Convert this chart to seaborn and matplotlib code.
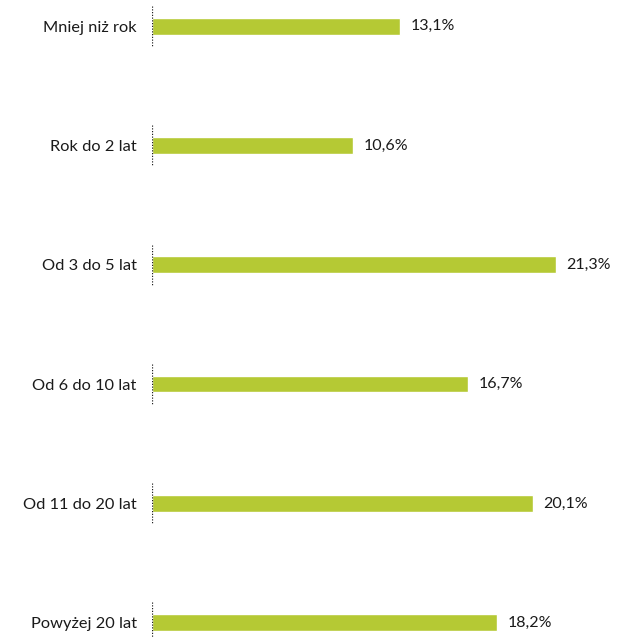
import pandas as pd
import matplotlib
matplotlib.use('Agg')
import matplotlib.pyplot as plt
import seaborn as sns

categories = ['Mniej niż rok', 'Rok do 2 lat', 'Od 3 do 5 lat',
              'Od 6 do 10 lat', 'Od 11 do 20 lat', 'Powyżej 20 lat']
values = [13.1, 10.6, 21.3, 16.7, 20.1, 18.2]
value_labels = ['13,1%', '10,6%', '21,3%', '16,7%', '20,1%', '18,2%']

df = pd.DataFrame({'cat': categories, 'val': values})

sns.set_style('white')
plt.rcParams['font.family'] = ['Lato', 'DejaVu Sans']

fig = plt.figure(figsize=(6.19, 6.37), dpi=100)
ax = fig.add_axes([152 / 619, 0, 1 - 152 / 619, 1])

sns.barplot(data=df, x='val', y='cat', color='#b5c934', width=0.14,
            saturation=1, ax=ax)

# dotted axis pieces at each category
for i in range(len(categories)):
    ax.vlines(0, i - 0.17, i + 0.17, colors='#222222', linestyles=(0, (1, 1.2)),
              linewidth=0.9)

for i, (v, lab) in enumerate(zip(values, value_labels)):
    ax.text(v + 0.55, i, lab, va='center', ha='left', fontsize=11.5, color='#1a1a1a')

ax.set_xlim(0, 24.65)
ax.set_ylim(5.12, -0.22)
ax.set_xlabel('')
ax.set_ylabel('')
ax.set_xticks([])
ax.tick_params(axis='y', length=0, pad=11, labelsize=11.8, labelcolor='#1a1a1a')
for s in ax.spines.values():
    s.set_visible(False)

fig.savefig('out.png', dpi=100)
